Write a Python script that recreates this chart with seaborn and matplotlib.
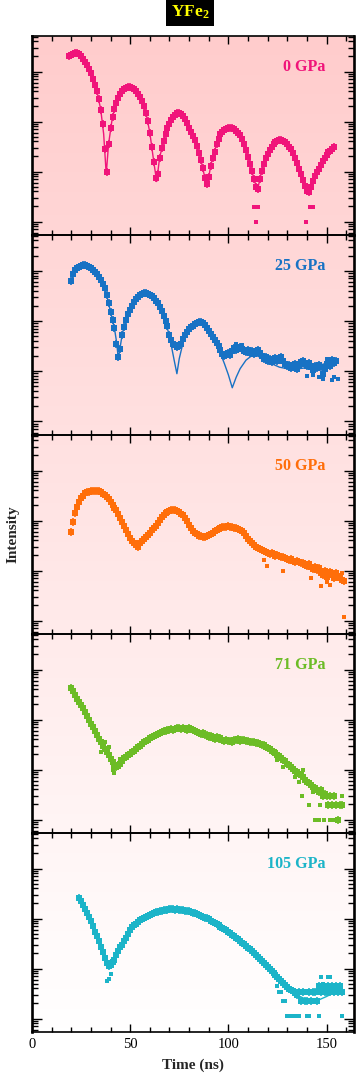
import numpy as np
import matplotlib
matplotlib.use("Agg")
import matplotlib.pyplot as plt
from matplotlib.ticker import LogLocator, MultipleLocator, NullFormatter
import seaborn as sns

# Panel labels and colours
pressures = ["0 GPa", "25 GPa", "50 GPa", "71 GPa", "105 GPa"]
colors = ["#F0147A", "#1872C4", "#FF6E0A", "#6CBC26", "#1CB4C8"]

# Measured time spectra: log10(counts), one value per ns starting at t_start
t_start = [19, 20, 20, 20, 24]

p0_log = [4.32, 4.34, 4.36, 4.37, 4.37, 4.35, 4.31, 4.26, 4.20, 4.13,
          4.06, 3.97, 3.86, 3.74, 3.62, 3.45, 3.24, 2.95, 2.45, 2.00,
          2.55, 2.88, 3.10, 3.26, 3.38, 3.48, 3.56, 3.61, 3.65, 3.68,
          3.69, 3.69, 3.68, 3.65, 3.61, 3.56, 3.49, 3.41, 3.32, 3.18,
          3.02, 2.78, 2.50, 2.20, 1.88, 1.95, 2.28, 2.48, 2.62, 2.76,
          2.88, 2.96, 3.04, 3.10, 3.14, 3.17, 3.17, 3.15, 3.11, 3.05,
          2.97, 2.88, 2.80, 2.72, 2.64, 2.52, 2.38, 2.24, 2.08, 1.88,
          1.75, 1.90, 2.12, 2.28, 2.40, 2.55, 2.66, 2.75, 2.80, 2.84,
          2.86, 2.87, 2.88, 2.87, 2.85, 2.82, 2.78, 2.73, 2.66, 2.56,
          2.44, 2.30, 2.16, 2.02, 1.86, 1.70, 1.66, 1.85, 2.02, 2.15,
          2.27, 2.36, 2.43, 2.50, 2.55, 2.59, 2.62, 2.63, 2.63, 2.62,
          2.59, 2.55, 2.50, 2.45, 2.38, 2.28, 2.17, 2.06, 1.96, 1.84,
          1.72, 1.62, 1.60, 1.70, 1.82, 1.92, 2.00, 2.06, 2.14, 2.22,
          2.28, 2.34, 2.39, 2.42, 2.46, 2.50]

p25_log = [3.80, 3.93, 4.01, 4.05, 4.08, 4.10, 4.11, 4.11, 4.10, 4.08,
           4.06, 4.02, 3.98, 3.94, 3.88, 3.81, 3.73, 3.65, 3.52, 3.36,
           3.18, 3.02, 2.85, 2.55, 2.28, 2.45, 2.72, 2.88, 3.02, 3.13,
           3.21, 3.30, 3.37, 3.43, 3.47, 3.51, 3.53, 3.55, 3.55, 3.54,
           3.52, 3.49, 3.45, 3.40, 3.35, 3.28, 3.20, 3.10, 3.00, 2.90,
           2.72, 2.62, 2.55, 2.52, 2.48, 2.50, 2.55, 2.65, 2.72, 2.78,
           2.83, 2.87, 2.90, 2.93, 2.96, 2.97, 2.98, 2.96, 2.92, 2.86,
           2.80, 2.74, 2.68, 2.62, 2.56, 2.51, 2.42, 2.35, 2.31, 2.33,
           2.36, 2.32, 2.40, 2.47, 2.43, 2.46, 2.48, 2.44, 2.40, 2.38,
           2.42, 2.37, 2.40, 2.34, 2.38, 2.42, 2.36, 2.30, 2.25, 2.28,
           2.20, 2.24, 2.18, 2.22, 2.27, 2.20, 2.25, 2.28, 2.20, 2.15,
           2.10, 2.12, 2.06, 2.10, 2.15, 2.05, 2.12, 2.18, 2.20, 2.14,
           2.10, 2.16, 2.08, 2.02, 2.10, 2.06, 2.12, 2.08, 1.95, 2.05,
           2.14, 2.18, 2.10, 2.22, 2.16, 2.20]

p50_log = [2.78, 2.98, 3.15, 3.28, 3.38, 3.45, 3.50, 3.55, 3.57, 3.58,
           3.59, 3.60, 3.60, 3.60, 3.59, 3.57, 3.54, 3.51, 3.48, 3.44,
           3.38, 3.32, 3.26, 3.21, 3.14, 3.06, 2.98, 2.90, 2.82, 2.74,
           2.66, 2.60, 2.56, 2.52, 2.48, 2.55, 2.60, 2.64, 2.68, 2.72,
           2.76, 2.81, 2.86, 2.90, 2.95, 3.02, 3.08, 3.12, 3.15, 3.17,
           3.19, 3.21, 3.22, 3.21, 3.19, 3.17, 3.14, 3.11, 3.06, 2.99,
           2.92, 2.86, 2.80, 2.76, 2.73, 2.70, 2.69, 2.68, 2.67, 2.70,
           2.72, 2.74, 2.76, 2.79, 2.82, 2.84, 2.86, 2.87, 2.87, 2.88,
           2.89, 2.88, 2.87, 2.86, 2.85, 2.84, 2.82, 2.79, 2.75, 2.70,
           2.64, 2.60, 2.56, 2.52, 2.48, 2.45, 2.43, 2.41, 2.39, 2.37,
           2.35, 2.34, 2.36, 2.33, 2.30, 2.32, 2.30, 2.28, 2.27, 2.25,
           2.24, 2.22, 2.23, 2.20, 2.18, 2.20, 2.17, 2.15, 2.16, 2.12,
           2.10, 2.13, 2.08, 2.04, 2.08, 2.02, 2.06, 1.96, 1.92, 2.00,
           1.88, 1.95, 1.98, 1.92, 1.86, 1.96, 1.90, 1.85, 1.82, 1.80]

p71_log = [3.64, 3.58, 3.50, 3.42, 3.36, 3.30, 3.24, 3.16, 3.08, 3.00,
           2.92, 2.85, 2.77, 2.70, 2.62, 2.56, 2.48, 2.42, 2.36, 2.30,
           2.22, 2.16, 2.10, 2.06, 2.08, 2.12, 2.18, 2.24, 2.26, 2.30,
           2.32, 2.36, 2.38, 2.42, 2.45, 2.47, 2.52, 2.55, 2.58, 2.60,
           2.63, 2.65, 2.68, 2.70, 2.72, 2.74, 2.75, 2.77, 2.78, 2.79,
           2.80, 2.81, 2.80, 2.82, 2.84, 2.83, 2.82, 2.84, 2.82, 2.80,
           2.83, 2.81, 2.80, 2.78, 2.76, 2.74, 2.71, 2.73, 2.69, 2.70,
           2.66, 2.68, 2.64, 2.62, 2.65, 2.61, 2.63, 2.60, 2.58, 2.60,
           2.57, 2.58, 2.56, 2.59, 2.60, 2.61, 2.58, 2.60, 2.59, 2.57,
           2.58, 2.56, 2.55, 2.56, 2.53, 2.54, 2.52, 2.50, 2.49, 2.46,
           2.44, 2.42, 2.38, 2.36, 2.33, 2.30, 2.28, 2.24, 2.20, 2.17,
           2.12, 2.10, 2.05, 2.02, 1.98, 1.96, 1.92, 1.90, 1.86, 1.80,
           1.76, 1.74, 1.70, 1.66, 1.64, 1.60, 1.55, 1.60, 1.48, 1.52,
           1.48, 1.30, 1.48, 1.30, 1.48, 1.30, 1.00, 1.30, 1.30]

p105_log = [3.42, 3.36, 3.28, 3.20, 3.12, 3.04, 2.95, 2.85, 2.74, 2.65,
            2.55, 2.44, 2.34, 2.22, 2.12, 2.05, 2.08, 2.14, 2.18, 2.27,
            2.36, 2.43, 2.48, 2.55, 2.62, 2.70, 2.77, 2.83, 2.87, 2.90,
            2.94, 2.97, 3.00, 3.02, 3.04, 3.06, 3.08, 3.10, 3.11, 3.13,
            3.14, 3.15, 3.16, 3.17, 3.18, 3.18, 3.19, 3.19, 3.19, 3.18,
            3.19, 3.18, 3.17, 3.17, 3.16, 3.16, 3.15, 3.14, 3.12, 3.11,
            3.09, 3.08, 3.06, 3.04, 3.02, 3.01, 2.99, 2.96, 2.94, 2.92,
            2.89, 2.87, 2.84, 2.82, 2.80, 2.77, 2.74, 2.71, 2.68, 2.65,
            2.62, 2.59, 2.55, 2.52, 2.49, 2.45, 2.42, 2.39, 2.35, 2.31,
            2.27, 2.23, 2.19, 2.15, 2.11, 2.07, 2.03, 1.99, 1.95, 1.91,
            1.88, 1.84, 1.80, 1.76, 1.72, 1.68, 1.64, 1.60, 1.58, 1.55,
            1.52, 1.48, 1.53, 1.35, 1.53, 1.35, 1.35, 1.53, 1.35, 1.53,
            1.53, 1.35, 1.66, 1.53, 1.66, 1.53, 1.53, 1.66, 1.53, 1.66,
            1.53, 1.66, 1.53, 1.66, 1.53]

# Stray / low-count points off the main band
p0_extra_t = [113, 114, 115, 114, 141.5, 142.5, 143, 139.5]
p0_extra_log = [1.30, 1.30, 1.30, 1.00, 1.30, 1.30, 1.30, 1.00]
p25_extra_t = [140, 143, 146, 148, 150, 153, 154, 156, 104, 107, 118]
p25_extra_log = [1.90, 1.93, 1.88, 1.85, 2.25, 1.82, 1.88, 1.85, 2.55, 2.52, 2.30]
p50_extra_t = [118, 119.5, 128, 142, 147, 150, 152, 158, 159]
p50_extra_log = [2.22, 2.10, 2.00, 1.85, 1.70, 1.78, 1.72, 1.95, 1.07]
p71_extra_t = [35, 37, 39, 41, 42, 45, 134, 136, 138, 141, 143, 144, 146, 146.5,
               148.5, 150, 152, 153, 154, 158, 137.5, 152.5, 158, 128, 125]
p71_extra_log = [2.35, 2.55, 2.45, 2.00, 1.93, 2.22, 1.85, 1.75, 2.00, 1.30, 1.55, 1.00,
                 1.00, 1.30, 1.00, 1.30, 1.00, 1.00, 1.00, 1.48, 1.48, 1.48, 1.48, 2.05, 2.20]
p105_extra_t = [38, 39, 40, 126, 128, 130, 131, 132, 133, 134, 135, 136, 140, 141,
                146, 158, 127, 125, 129, 148, 151, 152, 147]
p105_extra_log = [1.75, 1.80, 1.90, 1.53, 1.35, 1.05, 1.05, 1.05, 1.05, 1.05, 1.05, 1.05,
                  1.05, 1.05, 1.05, 1.05, 1.53, 1.66, 1.35, 1.70, 1.83, 1.83, 1.83]

# Fitted curves (only drawn where they show in the original)
p0_fit_t = [19, 22, 26, 30, 33, 35, 36.5, 37.8, 39, 41, 44, 47, 50, 53, 56, 58, 60, 62,
            63.5, 65, 68, 71, 74, 77, 80, 83, 86, 88, 89.3, 91, 94, 97, 101, 104, 107,
            110, 113, 114.8, 117, 120, 123, 126.5, 130, 133, 136, 139, 141.2, 143, 146,
            150, 154]
p0_fit_log = [4.32, 4.37, 4.26, 3.97, 3.62, 3.24, 2.75, 1.95, 2.55, 3.10, 3.48, 3.65,
              3.69, 3.61, 3.41, 3.18, 2.78, 2.20, 1.80, 2.28, 2.76, 3.04, 3.17, 3.11,
              2.88, 2.64, 2.24, 1.88, 1.70, 2.12, 2.55, 2.80, 2.88, 2.82, 2.66, 2.30,
              1.86, 1.62, 2.02, 2.36, 2.55, 2.63, 2.55, 2.38, 2.06, 1.72, 1.58, 1.82,
              2.06, 2.34, 2.50]
p25_fit_t = [20, 22, 25, 27, 30, 33, 36, 38, 40, 42, 43, 44, 45, 46, 48, 50, 53, 56, 58,
             61, 64, 67, 69, 71, 72.5, 73.8, 75, 77, 80, 83, 86, 89, 92, 95, 98, 100, 102,
             104, 106, 109, 112, 115, 118, 122, 126, 130, 136, 140, 145, 150, 154]
p25_fit_log = [3.80, 4.01, 4.10, 4.11, 4.06, 3.94, 3.73, 3.52, 3.18, 2.85, 2.60, 2.25,
               2.50, 2.75, 3.02, 3.21, 3.43, 3.53, 3.55, 3.49, 3.35, 3.10, 2.85, 2.50,
               2.20, 1.95, 2.25, 2.58, 2.83, 2.93, 2.97, 2.86, 2.66, 2.45, 2.15, 1.93,
               1.67, 1.88, 2.05, 2.22, 2.31, 2.30, 2.24, 2.15, 2.08, 2.05, 2.05, 2.07,
               2.10, 2.16, 2.25]
p105_fit_t = [24, 27, 30, 33, 35, 37, 38.5, 39.5, 41, 43, 45, 48, 50, 55, 60, 65, 72, 80,
              90, 100, 110, 118, 125, 131, 136, 141, 146, 150, 154, 157]
p105_fit_log = [3.42, 3.20, 2.95, 2.65, 2.45, 2.24, 2.10, 2.05, 2.10, 2.27, 2.43, 2.62,
                2.77, 2.97, 3.08, 3.15, 3.19, 3.15, 2.99, 2.74, 2.42, 2.11, 1.84, 1.60,
                1.45, 1.36, 1.37, 1.44, 1.52, 1.58]

series = [p0_log, p25_log, p50_log, p71_log, p105_log]
extras = [(p0_extra_t, p0_extra_log), (p25_extra_t, p25_extra_log),
          (p50_extra_t, p50_extra_log), (p71_extra_t, p71_extra_log),
          (p105_extra_t, p105_extra_log)]
fits = [(p0_fit_t, p0_fit_log), (p25_fit_t, p25_fit_log), None, None,
        (p105_fit_t, p105_fit_log)]

sns.set_theme(style="ticks")
plt.rcParams['font.family'] = ['Liberation Serif', 'DejaVu Serif']
plt.rcParams['mathtext.default'] = 'regular'

W, H = 364, 1082
fig = plt.figure(figsize=(W / 100, H / 100), dpi=100)

# panel edges in pixels
left_px, right_px = 32, 354
edges = [36, 235, 435, 634, 833, 1032]

# pink -> white gradient behind all panels
bg = fig.add_axes([left_px / W, 1 - edges[-1] / H, (right_px - left_px) / W,
                   (edges[-1] - edges[0]) / H])
grad = np.linspace(0, 1, 256).reshape(-1, 1)
top_c = np.array([255, 204, 204]) / 255
bot_c = np.array([255, 255, 255]) / 255
img = top_c[None, None, :] * (1 - grad[:, :, None]) + bot_c[None, None, :] * grad[:, :, None]
bg.imshow(img, aspect='auto', extent=[0, 1, 0, 1])
bg.axis('off')

for i in range(5):
    top, bot = edges[i], edges[i + 1]
    ax = fig.add_axes([left_px / W, 1 - bot / H, (right_px - left_px) / W, (bot - top) / H])
    ax.set_facecolor('none')
    ax.set_yscale('log')
    c = colors[i]

    t = np.arange(t_start[i], t_start[i] + len(series[i]))
    counts = 10 ** np.array(series[i])
    if fits[i] is not None:
        sns.lineplot(x=fits[i][0], y=10 ** np.array(fits[i][1]), ax=ax, color=c,
                     lw=1.0, sort=False, estimator=None)
    # data points drawn as small squares plus a short vertical bar (error-bar look)
    sns.scatterplot(x=t, y=counts, ax=ax, color=c, marker='s', s=13, linewidth=0)
    sns.scatterplot(x=t, y=counts, ax=ax, color=c, marker='|', s=30, linewidth=1.2)
    sns.scatterplot(x=extras[i][0], y=10 ** np.array(extras[i][1]), ax=ax, color=c,
                    marker='s', s=11, linewidth=0)

    ax.set_xlim(0, 164)
    ax.set_ylim(10 ** 0.73, 10 ** 4.71)
    ax.set_xlabel('')
    ax.set_ylabel('')

    ax.xaxis.set_major_locator(MultipleLocator(50))
    ax.xaxis.set_minor_locator(MultipleLocator(10))
    ax.yaxis.set_major_locator(LogLocator(base=10))
    ax.yaxis.set_minor_locator(LogLocator(base=10, subs=np.arange(2, 10)))
    ax.yaxis.set_major_formatter(NullFormatter())
    ax.yaxis.set_minor_formatter(NullFormatter())
    ax.tick_params(axis='x', which='major', direction='in', length=6, width=1,
                   top=True, bottom=True, color='black')
    ax.tick_params(axis='x', which='minor', direction='in', length=3.6, width=1,
                   top=True, bottom=True, color='black')
    ax.tick_params(axis='y', which='major', direction='in', length=7.5, width=1,
                   left=True, right=True, color='black')
    ax.tick_params(axis='y', which='minor', direction='in', length=4, width=1,
                   left=True, right=True, color='black')
    ax.tick_params(axis='y', labelleft=False)
    if i < 4:
        ax.tick_params(axis='x', labelbottom=False)
    else:
        ax.tick_params(axis='x', labelsize=10.5, pad=4, labelcolor='black')

    for side in ['left', 'right']:
        ax.spines[side].set_linewidth(1.9)
    for side in ['top', 'bottom']:
        ax.spines[side].set_linewidth(1.2)
    for s in ax.spines.values():
        s.set_color('black')

    ax.text(0.91, 1 - 31 / (bot - top), pressures[i], transform=ax.transAxes,
            ha='right', va='center', color=c, fontsize=11.5, fontweight='bold')

    if i == 4:
        ax.set_xlabel('Time (ns)', fontsize=11, fontweight='bold', labelpad=6)

fig.text(13 / W, 1 - 534 / H, 'Intensity', rotation=90, ha='center', va='center',
         fontsize=11, fontweight='bold')
fig.text(190 / W, 1 - 12 / H, 'YFe$_2$', ha='center', va='center', color='#FFFF00',
         fontsize=12.5, fontweight='bold',
         bbox=dict(facecolor='black', edgecolor='none', pad=3.5))

fig.savefig('out.png', dpi=100)
